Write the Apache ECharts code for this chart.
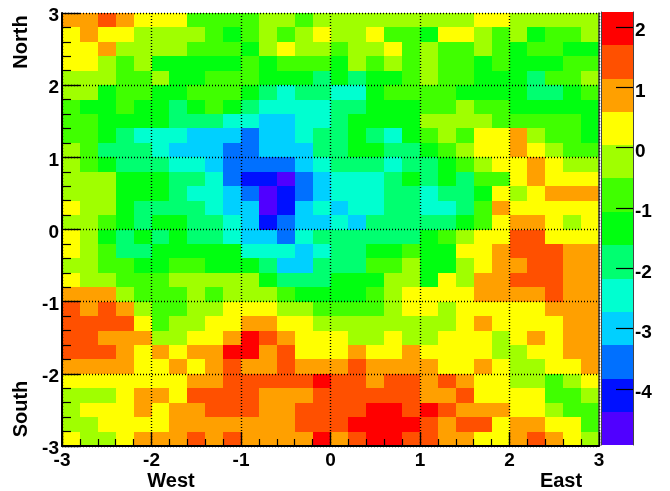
<!DOCTYPE html>
<html>
<head>
<meta charset="utf-8">
<script src="https://cdn.jsdelivr.net/npm/echarts@6/dist/echarts.min.js"></script>
<style>html,body{margin:0;padding:0;background:#fff}#c{width:670px;height:491px}</style>
</head>
<body>
<div id="c"></div>
<script>
// Binned map: 30 columns (x -3..3), 30 rows listed from the top (y 3) to the bottom (y -3)
const cellRows = [
[.9,.9,1.4,.9,.3,.3,.3,-.8,-.8,-.8,-.8,-.2,-.2,-.8,-.2,-.2,-.2,-.2,-.2,-.2,-.2,-.2,-.2,.3,.3,-.2,-.2,-.2,-.2,-.2],
[.3,.9,.3,.3,-.2,-.2,-.2,-.2,-.8,-1.3,-.8,-.2,-.8,-.2,.3,-.2,-.2,.3,-.8,-.8,-1.3,.3,.3,-.2,-.8,-.2,-1.3,-.8,-.8,-.2],
[.3,.3,.9,-.2,-.2,-.2,-.2,-.8,-.8,-.8,-1.3,-.2,.3,-.2,-.2,-.8,-.2,-.2,.3,-.8,-.2,-.8,-.8,-.2,-.8,-1.3,-.8,-.8,-1.3,-1.3],
[.3,.3,-.2,-.8,-.2,-1.3,-1.3,-1.3,-1.3,-1.3,-.8,-1.3,-.8,-.8,-.8,-1.3,-.2,-.8,-.2,-.8,-.2,-.8,-.8,-1.3,-.8,-1.3,-1.3,-1.3,-.8,-.8],
[-.2,-.2,-.2,-.8,-.8,-.2,-1.3,-1.3,-.8,-.8,-.8,-1.3,-1.3,-1.3,-1.9,-1.3,-1.9,-1.3,-1.3,-.8,-.2,-.8,-.8,-1.3,-1.3,-1.3,-1.9,-.8,-.8,-.2],
[-.2,-.2,-1.3,-.8,-.8,-1.3,-1.3,-.8,-.8,-.8,-1.3,-1.9,-2.4,-1.9,-1.9,-2.4,-2.4,-1.3,-.8,-.8,-.8,-.8,-1.3,-1.3,-1.3,-1.3,-1.9,-1.9,-1.3,-.8],
[-.8,-1.3,-1.3,-.8,-1.3,-1.3,-1.9,-1.3,-.8,-1.3,-1.9,-2.4,-2.4,-2.4,-2.4,-1.9,-1.9,-1.3,-1.3,-1.3,-.8,-.8,-.2,-.8,-.8,-1.3,-1.3,-1.3,-1.3,-1.3],
[-.8,-.8,-1.3,-1.3,-1.3,-1.3,-1.9,-1.9,-1.9,-2.4,-2.4,-3,-3,-2.4,-2.4,-1.9,-1.3,-1.3,-1.3,-1.3,-.2,-.2,-.2,-.2,-.8,-.8,-.8,-.8,-.8,-1.3],
[-.8,-.8,-1.3,-1.9,-2.4,-2.4,-2.4,-3,-3,-3,-3.6,-3,-3,-2.4,-1.9,-1.9,-1.3,-1.9,-2.4,-1.3,-.8,-.2,-.8,.3,.3,.9,-.2,-.8,-.8,-1.3],
[-.2,-.8,-1.9,-1.9,-1.9,-2.4,-3,-3,-3,-3.6,-3.6,-3,-3,-3,-1.9,-1.9,-1.3,-1.3,-1.9,-1.9,-1.3,-.8,-.2,.3,.3,.9,.3,-.2,-.8,-.8],
[-.2,-.8,-1.3,-1.9,-1.9,-1.9,-2.4,-2.4,-3,-3.6,-3.6,-3.6,-3.6,-3,-2.4,-1.9,-1.9,-1.9,-2.4,-1.9,-1.9,-1.3,-.8,-.2,.3,.3,.9,.3,-.2,-.2],
[-.2,-.2,-.2,-1.3,-1.3,-1.3,-1.9,-1.9,-2.4,-3.6,-4.1,-4.1,-4.7,-3.6,-3,-2.4,-2.4,-2.4,-1.9,-1.3,-1.9,-1.3,-1.9,-.8,-.8,.3,.9,.3,.3,.3],
[-.2,-.2,-.2,-1.3,-1.3,-1.3,-1.9,-2.4,-2.4,-3,-3.6,-4.7,-4.1,-3.6,-3,-2.4,-2.4,-2.4,-1.9,-1.9,-2.4,-1.9,-1.9,-1.3,.3,-.2,.3,.9,.9,.9],
[.3,-.2,-.2,-1.3,-1.9,-1.9,-1.9,-1.9,-2.4,-3,-3,-4.7,-4.1,-3,-2.4,-3,-2.4,-2.4,-1.9,-1.9,-2.4,-2.4,-1.9,-.8,.9,.3,.3,.3,.3,.3],
[-.2,-.2,-.8,-1.3,-1.9,-1.3,-1.3,-1.9,-1.9,-2.4,-3,-4.1,-3.6,-3,-3,-2.4,-3,-1.9,-1.9,-1.9,-1.9,-1.9,-1.3,-.8,.3,.9,.9,.3,-.2,.3],
[.3,-.2,-1.3,-1.9,-1.3,-1.9,-1.3,-1.9,-1.9,-2.4,-3,-3,-3.6,-2.4,-1.9,-1.9,-1.9,-1.9,-1.9,-1.9,-1.3,-.8,-.2,.3,.3,1.4,1.4,.3,.3,.3],
[.3,-.2,-.8,-1.9,-1.9,-1.3,-1.3,-1.3,-1.3,-1.3,-2.4,-2.4,-2.4,-3,-2.4,-1.9,-1.9,-1.3,-1.3,-.8,-1.3,-1.3,.3,.3,.9,1.4,1.4,1.4,.9,.9],
[-.2,-.2,-.8,-.8,-1.3,-1.3,-.8,-.8,-1.3,-1.3,-1.3,-1.9,-3,-3,-1.9,-1.9,-1.9,-.8,-.8,-.2,-1.3,-1.3,-.2,.3,.9,.9,1.4,1.4,.9,.9],
[.3,-.2,-.2,-.8,-.8,-.8,-.2,-.2,-.2,-.2,-.2,-1.3,-1.9,-1.9,-1.9,-1.3,-1.3,-1.3,-.2,-.2,-1.3,.3,-.2,.9,.9,1.4,1.4,1.4,.9,.9],
[.9,.9,.9,-.2,-.8,-.8,-.8,-.2,-.8,-.2,-.2,-.2,-.8,-1.3,-1.3,-1.3,-1.3,-.8,-.2,.3,.3,.3,.3,.9,.9,.9,.9,1.4,.9,.9],
[1.4,.9,1.4,.9,-.2,-.8,-.8,-.2,-.2,.3,.3,.3,-.2,-.2,-.8,-.8,-.8,-.8,-.2,.3,.3,-.2,.3,.3,.3,.3,.3,.9,.9,.9],
[1.4,1.4,1.4,1.4,.3,-.8,-.2,-.2,.3,.3,.9,.9,.3,.3,-.2,-.2,-.2,-.2,-.2,-.2,-.2,-.2,.3,.9,.3,.3,.3,.3,.9,.9],
[1.4,1.4,.9,.9,.9,-.2,-.2,.3,.3,.9,2,1.4,.9,.3,.3,.3,-.2,-.2,.3,-.2,-.2,.3,.3,.3,-.2,.3,.9,.3,.9,.9],
[1.4,1.4,1.4,.9,.3,.9,.3,.9,.9,2,2,.9,1.4,.3,.3,.3,.9,.3,.3,.9,.3,.3,.3,.3,-.2,-.2,.3,.3,.9,.9],
[.9,.9,.9,.9,.3,.3,.9,.3,.9,1.4,.9,.9,1.4,.9,.9,.9,1.4,.9,.9,.9,.9,.3,.3,.9,.3,-.2,-.2,.3,.3,.9],
[.3,.3,.3,.3,.3,.3,.3,.9,.9,1.4,1.4,1.4,1.4,1.4,2,1.4,1.4,.9,1.4,1.4,.9,1.4,.9,.3,.3,-.2,-.2,-.8,-.2,.3],
[-.2,-.2,-.2,.3,.9,.9,.3,1.4,1.4,1.4,1.4,.9,.9,.9,1.4,1.4,1.4,1.4,1.4,1.4,.9,.9,1.4,.3,.3,.3,.3,-.8,-.8,-.2],
[-.2,.3,.3,.3,.9,.3,.9,.9,1.4,1.4,1.4,.9,.9,1.4,1.4,1.4,1.4,2,2,1.4,2,1.4,.9,.9,.9,.3,.3,-.2,-.8,-.8],
[-.2,-.2,.3,.3,.3,.3,.9,.9,.9,.9,.9,.9,.9,1.4,1.4,1.4,2,2,2,2,1.4,.9,1.4,1.4,.3,.9,.9,.3,.3,-.8],
[.3,-.2,-.2,.3,.9,.9,.9,1.4,.9,1.4,.9,.9,.9,.9,2,.9,1.4,2,2,1.4,1.4,.9,.9,.3,.3,.9,1.4,.9,.3,-.2]
];
// Colour scale: band edges from the bottom of the palette to its top, and one colour per band
const bandEdges = [-4.93,-4.38,-3.83,-3.27,-2.72,-2.17,-1.62,-1.07,-.51,.04,.59,1.14,1.70,2.25];
const bandColors = ['#5000ff','#0010ff','#0070ff','#00d0ff','#00ffd0','#00ff70','#00ff10','#40ff00','#a0ff00','#ffff00','#ffa000','#ff5000','#ff0000'];
const scaleTicks = [-4,-3,-2,-1,0,1,2];
const xEdgeStart = -3, yEdgeStart = 3, binSize = 0.2;
const fontName = '"Liberation Sans", Arial, sans-serif';
const dotted = {show:true, lineStyle:{color:'#000', type:[1,2], width:1.4}};
const labelStyle = {color:'#000', fontFamily:fontName, fontWeight:'bold', fontSize:19};

function colorOf(v){
  for (let i=0;i<bandColors.length;i++){ if (v<bandEdges[i+1]) return bandColors[i]; }
  return bandColors[bandColors.length-1];
}
const cellData = [];
cellRows.forEach((row,r)=>row.forEach((v,c)=>{
  const x0 = xEdgeStart + c*binSize, y1 = yEdgeStart - r*binSize;
  cellData.push([x0, y1, x0+binSize, y1-binSize, v]);
}));
const barData = bandColors.map((_,i)=>[0, bandEdges[i+1], 1, bandEdges[i], (bandEdges[i]+bandEdges[i+1])/2]);

function renderBox(params, api){
  const a = api.coord([api.value(0), api.value(1)]);
  const b = api.coord([api.value(2), api.value(3)]);
  const x0 = Math.round(a[0]), y0 = Math.round(a[1]), x1 = Math.round(b[0]), y1 = Math.round(b[1]);
  return {type:'rect', shape:{x:x0, y:y0, width:x1-x0, height:y1-y0},
          style:{fill:colorOf(api.value(4))}};
}

const chart = echarts.init(document.getElementById('c'), null, {renderer:'canvas'});
chart.setOption({
  animation:false,
  backgroundColor:'#fff',
  grid:[
    {left:62, top:13, width:537, height:433},
    {left:601, top:12, width:32, height:433}
  ],
  xAxis:[
    {type:'value', gridIndex:0, min:-3, max:3, interval:1, z:10,
     axisLine:{show:true, onZero:false, lineStyle:{color:'#000', width:2}},
     axisTick:{show:true, inside:true, length:14, lineStyle:{color:'#000', width:1.4}},
     minorTick:{show:true, splitNumber:5, length:7, lineStyle:{color:'#000', width:1.2}},
     splitLine:dotted,
     axisLabel:Object.assign({margin:5, hideOverlap:false, showMinLabel:true, showMaxLabel:true}, labelStyle)},
    {type:'value', gridIndex:1, min:0, max:1, show:false}
  ],
  yAxis:[
    {type:'value', gridIndex:0, min:-3, max:3, interval:1, z:10,
     axisLine:{show:true, onZero:false, lineStyle:{color:'#000', width:2}},
     axisTick:{show:true, inside:true, length:18, lineStyle:{color:'#000', width:1.4}},
     minorTick:{show:true, splitNumber:5, length:9, lineStyle:{color:'#000', width:1.2}},
     splitLine:dotted,
     axisLabel:Object.assign({margin:3, verticalAlign:'top', lineHeight:6, hideOverlap:false, showMinLabel:true, showMaxLabel:true}, labelStyle)},
    {type:'value', gridIndex:0, min:-3, max:3, position:'right', z:10,
     axisLine:{show:true, onZero:false, lineStyle:{color:'#333', width:1.5}},
     axisTick:{show:false}, axisLabel:{show:false}, splitLine:{show:false}},
    {type:'value', gridIndex:1, min:bandEdges[0], max:bandEdges[bandEdges.length-1], position:'right', z:10,
     axisLine:{show:true, onZero:false, lineStyle:{color:'#444', width:1}},
     axisTick:{show:true, inside:true, length:17, customValues:scaleTicks, lineStyle:{color:'#000', width:1.2}},
     axisLabel:Object.assign({margin:2, verticalAlign:'top', lineHeight:8, customValues:scaleTicks, hideOverlap:false}, labelStyle),
     splitLine:{show:false}},
    {type:'value', gridIndex:1, min:bandEdges[0], max:bandEdges[bandEdges.length-1], position:'left', z:10,
     axisLine:{show:true, onZero:false, lineStyle:{color:'#444', width:1}},
     axisTick:{show:false}, axisLabel:{show:false}, splitLine:{show:false}}
  ],
  series:[
    {type:'custom', xAxisIndex:0, yAxisIndex:0, data:cellData, renderItem:renderBox, silent:true, clip:true,
     encode:{x:[0,2], y:[1,3]}},
    {type:'custom', xAxisIndex:1, yAxisIndex:2, data:barData, renderItem:renderBox, silent:true,
     encode:{x:[0,2], y:[1,3]}}
  ],
  graphic:[
    {type:'text', x:171, y:481, style:{text:'West', x:0, y:0, align:'center', verticalAlign:'middle', fill:'#000', font:'bold 20px '+fontName}},
    {type:'text', x:561, y:481, style:{text:'East', x:0, y:0, align:'center', verticalAlign:'middle', fill:'#000', font:'bold 20px '+fontName}},
    {type:'text', x:21, y:42, rotation:Math.PI/2, style:{text:'North', x:0, y:0, align:'center', verticalAlign:'middle', fill:'#000', font:'bold 20px '+fontName}},
    {type:'text', x:21, y:409, rotation:Math.PI/2, style:{text:'South', x:0, y:0, align:'center', verticalAlign:'middle', fill:'#000', font:'bold 20px '+fontName}}
  ]
});
</script>
</body>
</html>
